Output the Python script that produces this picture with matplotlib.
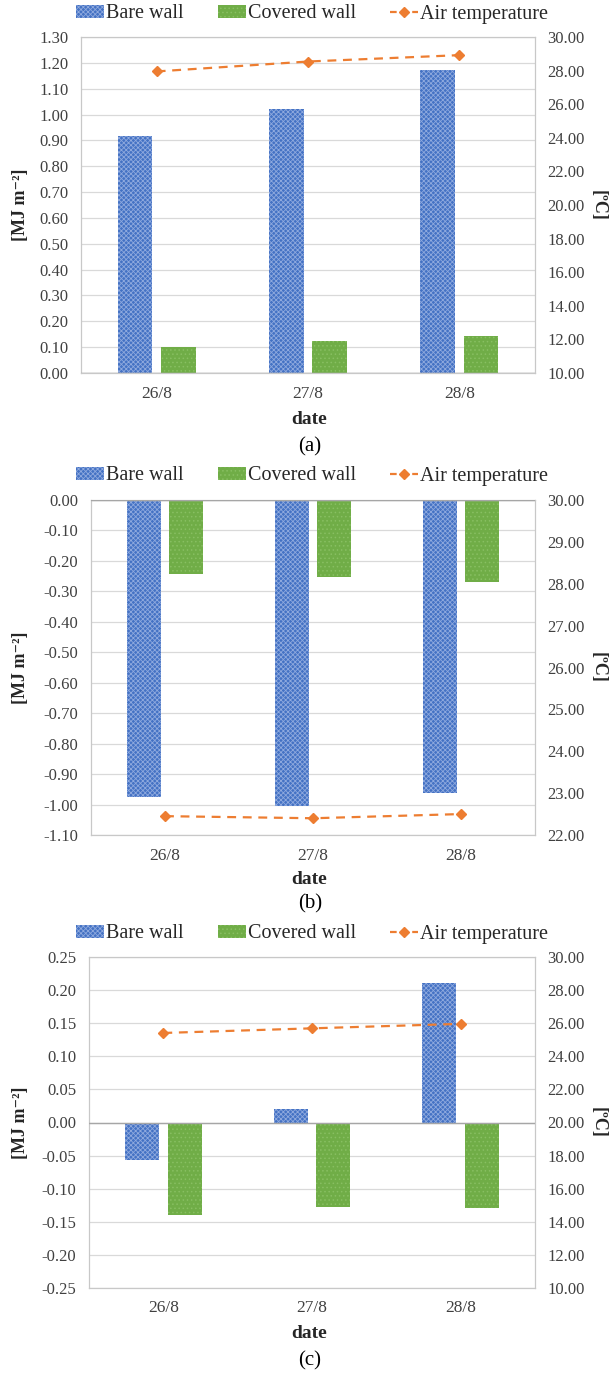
import numpy as np
import matplotlib
matplotlib.use("Agg")
import matplotlib.pyplot as plt
from matplotlib.patches import Patch
from matplotlib.lines import Line2D

plt.rcParams["font.family"] = ["Liberation Serif", "DejaVu Serif"]
plt.rcParams["axes.unicode_minus"] = False
plt.rcParams["hatch.linewidth"] = 0.6

dates = ["26/8", "27/8", "28/8"]

bare_a = [0.918, 1.023, 1.172]
covered_a = [0.101, 0.124, 0.144]
air_a = [27.95, 28.54, 28.92]

bare_b = [-0.975, -1.005, -0.962]
covered_b = [-0.242, -0.253, -0.270]
air_b = [22.45, 22.40, 22.50]

bare_c = [-0.057, 0.020, 0.210]
covered_c = [-0.139, -0.128, -0.129]
air_c = [25.41, 25.69, 25.96]

W, H = 612, 1375
BLUE, BLUE_H = "#4472C4", "#8EA9DE"
GREEN, GREEN_H = "#70AD47", "#88BF62"
ORANGE = "#ED7D31"
TXT = "#262626"
BLUE_PAT, GREEN_PAT = "xxxxxxx", "...."


def rect(left, top, right, bottom):
    return [left / W, 1 - bottom / H, (right - left) / W, (bottom - top) / H]


def fmt(vals):
    return [f"{(round(v, 2) + 0.0):.2f}" for v in vals]


def draw_panel(fig, box, bare, covered, air, ylim, ystep, tlim, tstep, tag,
               leg_y, date_y, tag_y):
    left, top, right, bottom = box
    ax = fig.add_axes(rect(left, top, right, bottom))
    x = np.arange(len(dates))
    w, off = 0.228, 0.143
    ax.bar(x - off, bare, width=w, color=BLUE, edgecolor=BLUE_H,
           hatch=BLUE_PAT, linewidth=0, zorder=2)
    ax.bar(x + off, covered, width=w, color=GREEN, edgecolor=GREEN_H,
           hatch=GREEN_PAT, linewidth=0, zorder=2)
    ax.set_xlim(-0.5, 2.5)
    ax.set_ylim(*ylim)
    yt = np.arange(ylim[0], ylim[1] + ystep / 2, ystep)
    ax.set_yticks(yt)
    ax.set_yticklabels(fmt(yt))
    ax.set_xticks(x)
    ax.set_xticklabels(dates)
    ax.grid(axis="y", color="#D9D9D9", linewidth=0.9, zorder=0)
    ax.set_axisbelow(True)
    ax.axhline(0, color="#A6A6A6", linewidth=1.0, zorder=3)
    for s in ax.spines.values():
        s.set_color("#C8C8C8")
        s.set_linewidth(0.9)
    ax.tick_params(axis="both", length=0, colors="#404040")
    ax.tick_params(axis="y", pad=9, labelsize=12)
    ax.tick_params(axis="x", pad=9, labelsize=12.5)

    ax2 = ax.twinx()
    ax2.plot(x, air, color=ORANGE, linestyle=(0, (4, 3)), linewidth=1.6,
             marker="D", markersize=5, zorder=4)
    ax2.set_ylim(*tlim)
    tt = np.arange(tlim[0], tlim[1] + tstep / 2, tstep)
    ax2.set_yticks(tt)
    ax2.set_yticklabels(fmt(tt))
    ax2.tick_params(axis="y", length=0, labelsize=12, colors="#404040", pad=9)
    for s in ax2.spines.values():
        s.set_visible(False)

    cy = 1 - (top + bottom) / 2 / H
    fig.text(21 / W, cy, "[MJ m⁻²]", rotation=90, ha="center",
             va="center", fontsize=13, fontweight="bold", color=TXT)
    fig.text(598 / W, cy, "[ºC]", rotation=270, ha="center", va="center",
             fontsize=13, fontweight="bold", color=TXT)
    fig.text(309 / W, 1 - date_y / H, "date", ha="center", va="center",
             fontsize=14, fontweight="bold", color=TXT)
    fig.text(310 / W, 1 - tag_y / H, tag, ha="center", va="center",
             fontsize=15, color="black")

    handles = [
        Patch(facecolor=BLUE, edgecolor=BLUE_H, hatch=BLUE_PAT, linewidth=0),
        Patch(facecolor=GREEN, edgecolor=GREEN_H, hatch=GREEN_PAT, linewidth=0),
        Line2D([], [], color=ORANGE, linestyle=(0, (3, 2)), linewidth=1.6,
               marker="D", markersize=5),
    ]
    fig.legend(handles, ["Bare wall", "Covered wall", "Air temperature"],
               loc="center", bbox_to_anchor=(312 / W, 1 - leg_y / H), ncol=3,
               frameon=False, fontsize=14.5, handlelength=1.4,
               handleheight=0.65, handletextpad=0.1, columnspacing=1.7,
               borderpad=0, labelcolor=TXT)
    return ax


fig = plt.figure(figsize=(W / 100, H / 100), dpi=100)

draw_panel(fig, (81, 37, 535, 373), bare_a, covered_a, air_a,
           (0.0, 1.30), 0.10, (10, 30), 2, "(a)", 14, 419, 447)
draw_panel(fig, (91, 500, 535, 835), bare_b, covered_b, air_b,
           (-1.10, 0.0), 0.10, (22, 30), 1, "(b)", 476, 880, 904)
draw_panel(fig, (89, 957, 535, 1288), bare_c, covered_c, air_c,
           (-0.25, 0.25), 0.05, (10, 30), 2, "(c)", 934, 1333, 1361)

fig.savefig("out.png", dpi=100)
